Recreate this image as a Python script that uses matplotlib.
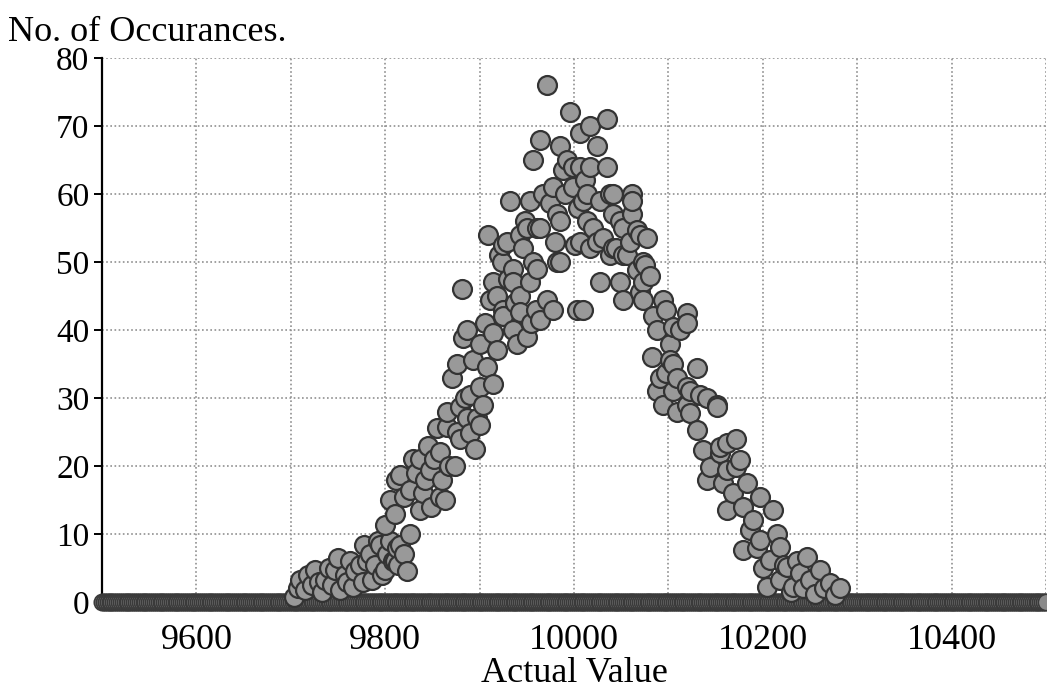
import matplotlib
matplotlib.use('Agg')
import matplotlib.pyplot as plt
from matplotlib.ticker import MultipleLocator

# bins with a non-zero count (actual value, occurrences)
actual_value = [
    9703, 9708, 9710, 9715, 9718, 9722, 9726, 9730, 9733, 9736, 9740, 9744, 9747, 9750,
    9752, 9757, 9760, 9763, 9766, 9768, 9773, 9776, 9778, 9781, 9784, 9786, 9789, 9792,
    9795, 9797, 9800, 9802, 9805, 9808, 9810, 9813, 9814, 9816, 9820, 9823, 9826,
    9800, 9805, 9810, 9812, 9816, 9820, 9826, 9829, 9833, 9837, 9837, 9840, 9842, 9845,
    9847, 9849, 9852, 9855, 9858, 9858, 9860, 9863, 9865, 9865, 9868, 9871, 9874, 9876,
    9876, 9879, 9879, 9881, 9882, 9885, 9887, 9887, 9890, 9890, 9893, 9895, 9897, 9900,
    9900, 9900, 9904, 9906, 9908, 9909, 9911, 9914, 9914, 9914, 9918, 9918, 9921, 9924,
    9925, 9925, 9925, 9929, 9930, 9932, 9935, 9935, 9935, 9938, 9940, 9943, 9943, 9943,
    9946, 9948, 9950, 9950, 9953, 9953, 9955, 9957, 9957, 9960, 9961, 9961, 9964, 9964,
    9964, 9967, 9971, 9971, 9975, 9978, 9978, 9980, 9982, 9982, 9985, 9985, 9985, 9988,
    9990, 9993, 9996, 9999, 9999, 10001, 10003, 10004, 10006, 10006, 10006, 10010, 10010,
    10012, 10014, 10014, 10017, 10017, 10017, 10020, 10024, 10024, 10028, 10028, 10031,
    10035, 10035, 10038, 10038, 10041, 10041, 10041, 10045, 10049, 10049, 10052, 10052,
    10052, 10056, 10059, 10061, 10062, 10062, 10067, 10067, 10070, 10070, 10073, 10073,
    10073, 10075, 10077, 10081, 10083, 10084, 10088, 10088, 10091, 10094, 10094, 10098,
    10098, 10102, 10102, 10105, 10105, 10105, 10109, 10109, 10112, 10120, 10120, 10120,
    10120, 10123, 10123, 10130, 10130, 10134, 10137, 10141, 10141, 10144, 10151, 10151,
    10155, 10155, 10158, 10162, 10162, 10162, 10168, 10172, 10172, 10176, 10179, 10179,
    10183, 10186, 10190, 10194, 10197, 10197, 10200, 10204, 10208, 10211, 10215, 10218,
    10218, 10222, 10226, 10230, 10232, 10236, 10239, 10243, 10247, 10250, 10255, 10261,
    10265, 10271, 10276, 10282,
]
occurrences = [
    0.8, 2, 3.2, 1.8, 4, 2.5, 4.7, 3, 1.5, 3.2, 5, 2.5, 4.7, 6.5,
    1.8, 4, 3, 6, 2.2, 4.5, 5.4, 3, 8.4, 6, 7, 3.2, 5.4, 9,
    8.4, 4, 4.7, 7, 9, 6, 6, 8, 5.4, 8.4, 7, 4.5, 10,
    11.3, 15, 13, 18, 18.7, 15.5, 16.5, 21, 19, 21, 13.5, 16, 18, 23,
    19.4, 14, 21, 25.6, 22, 15.4, 18, 15, 25.7, 28, 20, 33, 20, 25,
    35, 24, 28.7, 46, 38.8, 30, 27, 40, 24.8, 30.4, 35.6, 22.5, 27, 26,
    31.6, 38, 29, 41, 34.6, 54, 44.4, 32, 39.5, 47, 37, 45, 51, 50,
    52.5, 43, 42, 53, 47.5, 59, 49, 47, 40, 44, 38, 54, 45, 42.6,
    52, 56, 55, 39, 59, 47, 41, 50, 65, 43, 55, 49, 41.5, 55,
    68, 60, 44.4, 76, 58.7, 61, 43, 53, 57, 50, 56, 50, 67, 63.5,
    60, 65, 72, 64, 61, 52.5, 43, 58, 69, 64, 53, 59, 43,
    62, 56, 60, 70, 64, 52, 55, 67, 53, 59, 47, 53.5,
    71, 64, 51, 60, 52, 57, 60, 52, 56, 47, 55, 51,
    44.4, 51, 53, 60, 57, 59, 54.7, 48.8, 54, 45.6, 50, 47,
    44.4, 49.6, 53.5, 48, 36, 42, 40, 31, 33, 44.4, 29, 43,
    33.7, 38, 35.6, 40.4, 31, 35, 33, 28, 40, 42.5, 41, 29,
    31.6, 31, 27.8, 34.4, 25.3, 30.4, 22.4, 30, 18, 19.9, 29, 28.7,
    21.9, 22.8, 17.5, 23.4, 19.4, 13.5, 16, 24, 19.9, 20.9, 14, 7.6,
    17.5, 10.6, 12, 8, 15.4, 9.1, 5, 2.2, 6.2, 13.5, 10, 8.1,
    3.2, 5.5, 5.1, 1.5, 2.2, 6, 4.3, 2, 6.6, 3.2, 1.2, 4.7,
    2, 2.8, 1, 2,
]

# every bin of the run also sits on the zero line
zero_bins = list(range(9500, 10501, 2))
zero_counts = [0] * len(zero_bins)

x_ticks = [9600, 9800, 10000, 10200, 10400]
y_ticks = [0, 10, 20, 30, 40, 50, 60, 70, 80]

serif = ['Liberation Serif', 'DejaVu Serif']

fig = plt.figure(figsize=(10.47, 6.96), dpi=100)
ax = fig.add_axes([0.0974, 0.135, 0.9016, 0.7817])

ax.set_xlim(9500, 10500)
ax.set_ylim(0, 80)

ax.xaxis.set_minor_locator(MultipleLocator(100))
ax.set_xticks(x_ticks)
ax.set_yticks(y_ticks)
ax.grid(True, which='both', axis='x', color='#909090', linestyle=(0, (1, 1.5)), linewidth=1.2)
ax.grid(True, axis='y', color='#909090', linestyle=(0, (1, 1.5)), linewidth=1.2)
ax.set_axisbelow(True)

ax.scatter(zero_bins, zero_counts, s=140, facecolor='#8a8a8a', edgecolor='#3a3a3a',
           linewidth=1.2, clip_on=False, zorder=3)
ax.scatter(actual_value, occurrences, s=185, facecolor='#999999', edgecolor='#333333',
           linewidth=1.6, clip_on=False, zorder=4)

for side in ['top', 'right', 'bottom']:
    ax.spines[side].set_visible(False)
ax.spines['left'].set_linewidth(1.6)

ax.tick_params(axis='y', length=6, width=1.4, labelsize=24, pad=3)
ax.tick_params(axis='x', which='both', length=0, labelsize=26, pad=16)
for lab in ax.get_yticklabels() + ax.get_xticklabels():
    lab.set_family(serif)

ax.set_xlabel('Actual Value', fontsize=26, family=serif, labelpad=0)
fig.text(0.008, 0.953, 'No. of Occurances.', fontsize=26, family=serif, ha='left', va='center')

fig.savefig('out.png', dpi=100)
